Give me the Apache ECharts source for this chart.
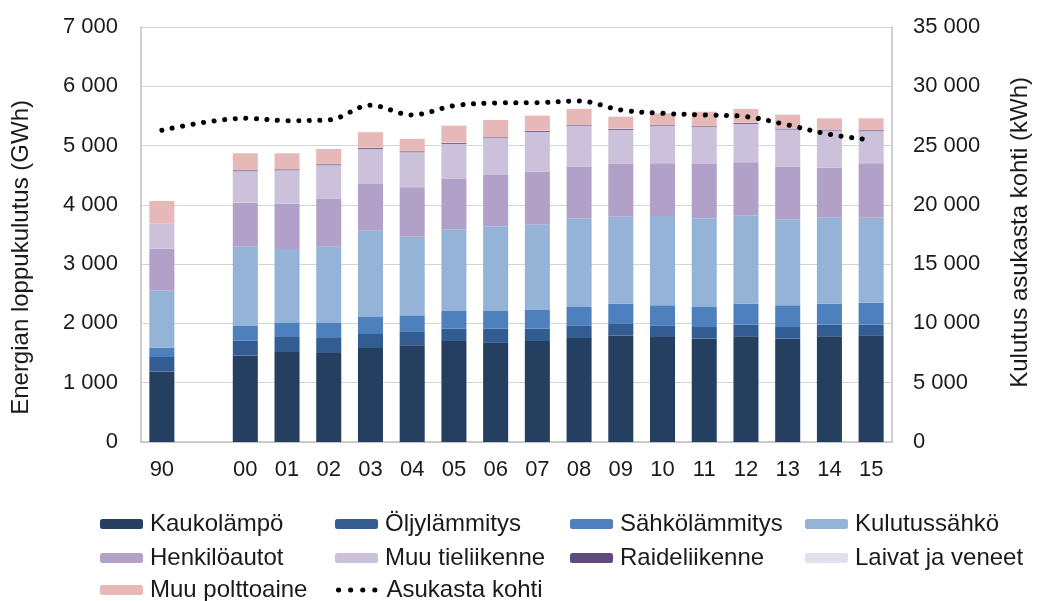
<!DOCTYPE html>
<html>
<head>
<meta charset="utf-8">
<script src="https://cdn.jsdelivr.net/npm/echarts@6/dist/echarts.min.js"></script>
<style>
  html, body { margin: 0; padding: 0; background: #fff; }
  #chart { width: 1039px; height: 601px; }
</style>
</head>
<body>
<div id="chart"></div>
<script>
// Years (two-digit); the empty slot separates 1990 from 2000
const years = ['90', '', '00', '01', '02', '03', '04', '05', '06', '07', '08', '09', '10', '11', '12', '13', '14', '15'];

// Final energy consumption by sector (GWh)
const kaukolampo     = [1186, null, 1456, 1518, 1501, 1586, 1631, 1704, 1682, 1704, 1754, 1793, 1771, 1743, 1782, 1743, 1782, 1799];
const oljylammitys   = [248, null, 253, 253, 253, 236, 225, 207, 229, 207, 214, 198, 197, 197, 197, 197, 197, 180];
const sahkolammitys  = [157, null, 248, 236, 253, 287, 281, 299, 299, 316, 310, 342, 338, 338, 354, 366, 354, 371];
const kulutussahko   = [968, null, 1338, 1249, 1288, 1456, 1327, 1378, 1428, 1439, 1495, 1468, 1506, 1495, 1491, 1450, 1451, 1434];
const henkiloautot   = [702, null, 742, 764, 805, 787, 833, 849, 866, 894, 872, 889, 889, 917, 894, 889, 844, 917];
const muuTieliikenne = [429, null, 532, 565, 570, 593, 592, 593, 621, 672, 683, 576, 627, 621, 649, 627, 627, 543];
const raideliikenne  = [0, null, 15, 15, 15, 15, 15, 15, 15, 15, 15, 15, 15, 15, 15, 15, 15, 15];
const laivatJaVeneet = [0, null, 5, 5, 5, 5, 5, 5, 5, 5, 5, 5, 5, 5, 5, 5, 5, 5];
const muuPolttoaine  = [376, null, 281, 265, 253, 260, 203, 286, 287, 253, 270, 202, 196, 241, 231, 230, 185, 196];

// Consumption per inhabitant (kWh)
const asukastaKohti = [26290, null, 27300, 27100, 27160, 28400, 27580, 28360, 28590, 28620, 28760, 28000, 27720, 27580, 27440, 26740, 25950, 25470];

const leftTicks = { min: 0, max: 7000, interval: 1000 };
const rightTicks = { min: 0, max: 35000, interval: 5000 };

const FONT = '"Liberation Sans", Arial, sans-serif';
const TEXT = '#1a1a1a';

const stacks = [
  { name: 'Kaukolämpö', data: kaukolampo, color: '#253F60' },
  { name: 'Öljylämmitys', data: oljylammitys, color: '#335D92' },
  { name: 'Sähkölämmitys', data: sahkolammitys, color: '#4E80BD' },
  { name: 'Kulutussähkö', data: kulutussahko, color: '#95B3D7' },
  { name: 'Henkilöautot', data: henkiloautot, color: '#B1A0C7' },
  { name: 'Muu tieliikenne', data: muuTieliikenne, color: '#CCC1DA' },
  { name: 'Raideliikenne', data: raideliikenne, color: '#604A7B' },
  { name: 'Laivat ja veneet', data: laivatJaVeneet, color: '#E4DFEC' },
  { name: 'Muu polttoaine', data: muuPolttoaine, color: '#E6B9B8' }
];

const fmt = v => String(v).replace(/\B(?=(\d{3})+(?!\d))/g, ' ');

const series = stacks.map(s => ({
  name: s.name,
  type: 'bar',
  stack: 'total',
  data: s.data,
  barCategoryGap: '40%',
  itemStyle: { color: s.color },
  emphasis: { disabled: true }
}));

series.push({
  name: 'Asukasta kohti',
  type: 'line',
  yAxisIndex: 1,
  data: asukastaKohti,
  connectNulls: true,
  smooth: 0.35,
  symbol: 'none',
  itemStyle: { color: '#000' },
  lineStyle: { color: '#000', width: 5, type: [0.1, 10.5], cap: 'round' },
  z: 5
});

// Legend laid out as a 4-column grid
const legendCols = [100, 335, 570, 805];
const legendRows = [512, 546, 578];
const legendOrder = stacks.map(s => s.name).concat(['Asukasta kohti']);
const legends = legendOrder.map((name, i) => {
  const isLine = name === 'Asukasta kohti';
  const lg = {
    data: [name],
    left: legendCols[i % 4],
    top: legendRows[Math.floor(i / 4)],
    padding: 0,
    itemWidth: 43,
    itemHeight: 10,
    itemGap: 0,
    selectedMode: false,
    textStyle: { fontFamily: FONT, fontSize: 24, color: TEXT, lineHeight: 24, padding: [0, 0, 0, 2] }
  };
  if (isLine) {
    lg.left = legendCols[i % 4] + 1;
    lg.itemWidth = 38;
    lg.itemStyle = { color: 'rgba(0,0,0,0)', borderColor: 'rgba(0,0,0,0)', borderWidth: 0 };
    lg.lineStyle = { type: [0.1, 12], width: 5, cap: 'round' };
    lg.textStyle = Object.assign({}, lg.textStyle, { padding: [0, 0, 0, 5] });
  }
  return lg;
});

const chart = echarts.init(document.getElementById('chart'));
chart.setOption({
  animation: false,
  backgroundColor: '#fff',
  grid: { left: 141, right: 147, top: 27, bottom: 159 },
  legend: legends,
  xAxis: {
    type: 'category',
    data: years,
    boundaryGap: true,
    axisLine: { lineStyle: { color: '#BFBFBF', width: 1.5 } },
    axisTick: { show: false },
    axisLabel: { fontFamily: FONT, fontSize: 22, color: TEXT, margin: 17, interval: 0 }
  },
  yAxis: [
    {
      type: 'value',
      min: leftTicks.min, max: leftTicks.max, interval: leftTicks.interval,
      axisLine: { show: true, lineStyle: { color: '#BFBFBF', width: 1.5 } },
      axisTick: { show: false },
      splitLine: { lineStyle: { color: '#D4D4D4', width: 1.2 } },
      axisLabel: { fontFamily: FONT, fontSize: 22, color: TEXT, margin: 23, formatter: fmt }
    },
    {
      type: 'value',
      position: 'right',
      min: rightTicks.min, max: rightTicks.max, interval: rightTicks.interval,
      axisLine: { show: true, lineStyle: { color: '#BFBFBF', width: 1.5 } },
      axisTick: { show: false },
      splitLine: { show: false },
      axisLabel: { fontFamily: FONT, fontSize: 22, color: TEXT, margin: 21, formatter: fmt }
    }
  ],
  graphic: [
    {
      type: 'text', left: 9, top: 100, rotation: Math.PI / 2,
      style: { text: 'Energian loppukulutus (GWh)', font: '24px ' + FONT, fill: TEXT }
    },
    {
      type: 'text', left: 1008, top: 77, rotation: Math.PI / 2,
      style: { text: 'Kulutus asukasta kohti (kWh)', font: '24px ' + FONT, fill: TEXT }
    }
  ],
  series: series
});
</script>
</body>
</html>
